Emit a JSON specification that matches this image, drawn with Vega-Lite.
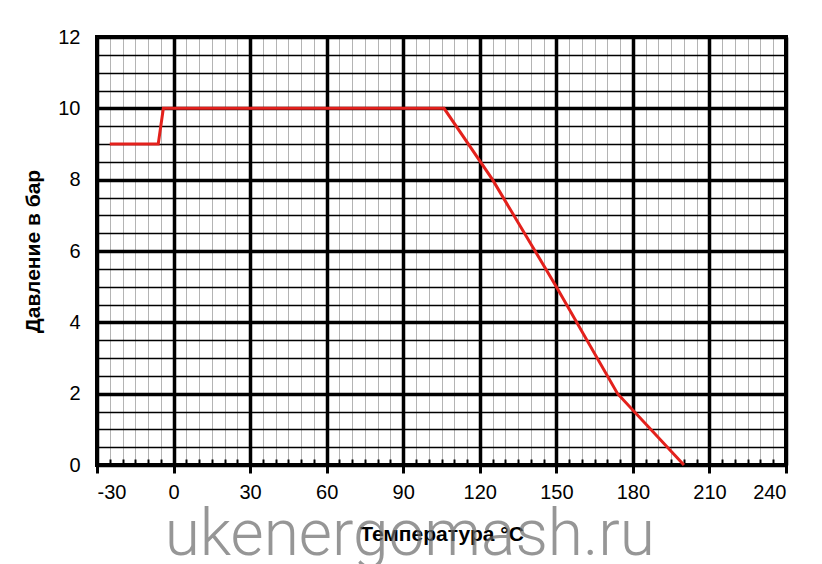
{
  "$schema": "https://vega.github.io/schema/vega-lite/v6.json",
  "autosize": {"type": "none"},
  "padding": {"left": 97, "top": 37, "right": 36, "bottom": 99},
  "width": 689,
  "height": 428,
  "background": "white",
  "config": {
    "font": "Liberation Sans",
    "view": {"stroke": "black", "strokeWidth": 4},
    "axis": {"labelColor": "black", "titleColor": "black", "labelFont": "Liberation Sans", "titleFont": "Liberation Sans"}
  },
  "data": {"values": [
    {"T": -25, "P": 9},
    {"T": -6, "P": 9},
    {"T": -4, "P": 10},
    {"T": 106, "P": 10},
    {"T": 125, "P": 8},
    {"T": 150, "P": 5},
    {"T": 174, "P": 2},
    {"T": 200, "P": 0}
  ]},
  "resolve": {"axis": {"x": "independent", "y": "independent"}},
  "layer": [
    {
      "mark": {"type": "line", "strokeOpacity": 0},
      "encoding": {
        "x": {"field": "T", "type": "quantitative", "scale": {"domain": [-30, 240], "nice": false, "zero": false},
          "axis": {"orient": "bottom", "values": [-30,-25,-20,-15,-10,-5,0,5,10,15,20,25,30,35,40,45,50,55,60,65,70,75,80,85,90,95,100,105,110,115,120,125,130,135,140,145,150,155,160,165,170,175,180,185,190,195,200,205,210,215,220,225,230,235,240],
            "grid": true, "gridColor": "#b4b4b4", "gridWidth": 1, "labels": false, "domain": false, "ticks": true, "tickSize": -6, "tickColor": "black", "tickWidth": 2, "title": null}},
        "y": {"field": "P", "type": "quantitative", "scale": {"domain": [0, 12], "nice": false, "zero": false},
          "axis": {"orient": "left", "values": [0,0.5,1,1.5,2,2.5,3,3.5,4,4.5,5,5.5,6,6.5,7,7.5,8,8.5,9,9.5,10,10.5,11,11.5,12],
            "grid": true, "gridColor": "black", "gridWidth": 1.6, "labels": false, "domain": false, "ticks": false, "title": null}}
      }
    },
    {
      "mark": {"type": "line", "color": "#e3211c", "strokeWidth": 3},
      "encoding": {
        "x": {"field": "T", "type": "quantitative",
          "axis": {"orient": "bottom", "values": [-30,0,30,60,90,120,150,180,210,240], "grid": true, "gridColor": "black", "gridWidth": 3.5,
            "domain": false, "ticks": true, "tickSize": 8, "tickColor": "black", "tickWidth": 3,
            "labelExpr": "toString(datum.value)",
            "labelFontSize": 20, "labelPadding": 9, "title": "Температура °C", "titleFontSize": 21, "titleFontWeight": "bold", "titlePadding": 21}},
        "y": {"field": "P", "type": "quantitative",
          "axis": {"orient": "left", "values": [0,2,4,6,8,10,12], "grid": true, "gridColor": "black", "gridWidth": 3.5,
            "domain": false, "ticks": false, "labelFontSize": 20, "labelPadding": 17,
            "title": "Давление в бар", "titleFontSize": 21, "titleFontWeight": "bold", "titlePadding": 14}}
      }
    },
    {
      "data": {"values": [{"label": "ukenergomash.ru"}]},
      "mark": {"type": "text", "font": "Roboto", "fontWeight": 300, "fontSize": 64, "color": "#6a6a6a", "opacity": 0.7, "baseline": "alphabetic", "align": "center"},
      "encoding": {
        "x": {"datum": 92.6, "type": "quantitative", "axis": null},
        "y": {"datum": -2.52, "type": "quantitative", "axis": null},
        "text": {"field": "label"}
      }
    }
  ]
}
